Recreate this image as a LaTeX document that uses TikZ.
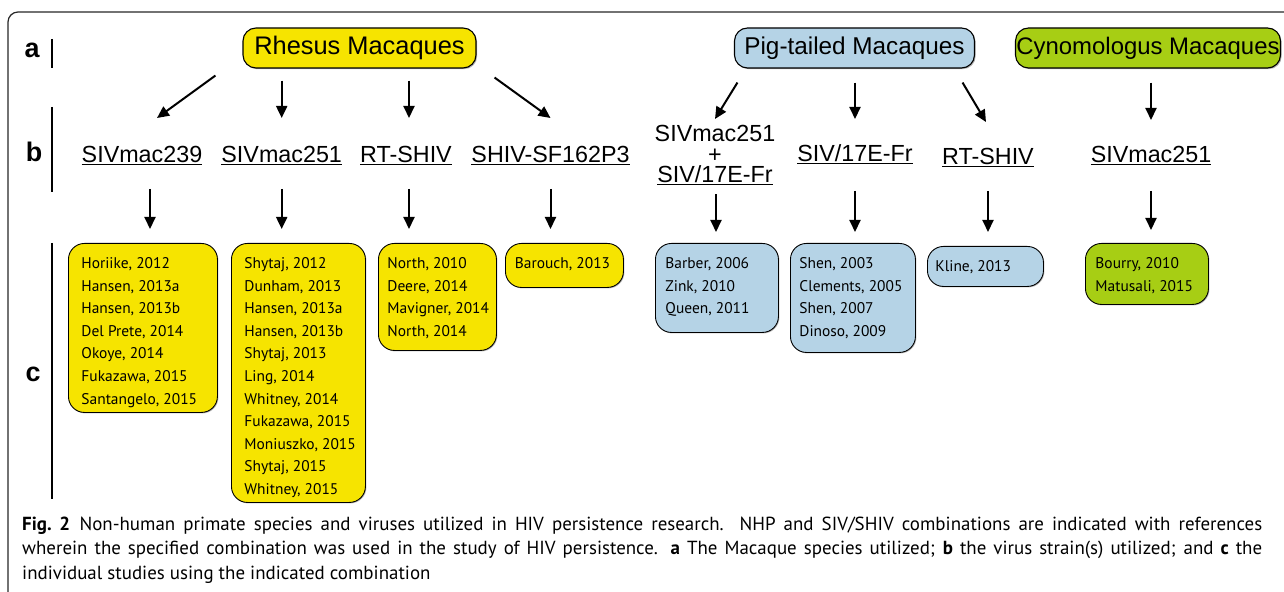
\documentclass[tikz,border=0pt]{standalone}
\usepackage{fontspec}
\setmainfont{Liberation Sans}
\newfontfamily\refsfont{PT Sans}
\usetikzlibrary{arrows.meta,calc,shadows}

\definecolor{rhesusyellow}{RGB}{246,228,0}
\definecolor{pigblue}{RGB}{181,211,230}
\definecolor{cynogreen}{RGB}{167,206,20}

% list of references inside a box of given width and height
\newcommand{\reflist}[3]{\parbox[t][#2][t]{#1}{\rule{0pt}{25bp}\begin{tabular}[t]{@{}l@{}}#3\end{tabular}}}
% one caption line, spread to the full width
\newcommand{\capline}[1]{\makebox[1240bp][s]{#1}}

\tikzset{
  species/.style={draw, fill=#1, line width=1.1bp, rounded corners=13bp, minimum height=40bp,
    inner sep=0pt, font=\fontsize{24}{28}\selectfont,
    drop shadow={shadow xshift=1.2bp, shadow yshift=-1.2bp, opacity=0.6}},
  strain/.style={inner sep=0pt, font=\fontsize{23.4}{20.5}\selectfont},
  refbox/.style={draw, fill=#1, line width=0.9bp, rounded corners=16bp, anchor=north west,
    inner ysep=0pt, font=\refsfont\fontsize{15.5}{22.7}\selectfont,
    drop shadow={shadow xshift=1bp, shadow yshift=-1bp, opacity=0.5}},
  arr/.style={line width=2bp, -{Triangle[length=12bp,width=11bp]}},
  rowlbl/.style={anchor=base, inner sep=0pt, font=\bfseries\fontsize{27}{30}\selectfont},
  rowbar/.style={line width=2bp},
}

\begin{document}
\begin{tikzpicture}[x=1bp, y=-1bp]
\useasboundingbox (0,0) rectangle (1284,592);
% frame
\draw[black!85, line width=1.2bp, rounded corners=10bp] (8,592) -- (8,12) -- (1284,12);

% row labels
\node[rowlbl] (la) at (32,58) {a};
\node[rowlbl] (lb) at (34,162) {b};
\node[rowlbl] (lc) at (33,382) {c};
\draw[rowbar] (52,39) -- (52,68);
\draw[rowbar] (52,107) -- (52,192);
\draw[rowbar] (52,243) -- (52,499);

% a: species
\node[species=rhesusyellow, minimum width=233bp, font=\fontsize{25.5}{28}\selectfont] (rhesus) at (359.5,48) {Rhesus Macaques};
\node[species=pigblue, minimum width=240bp, font=\fontsize{24.4}{28}\selectfont] (pigtail) at (854.5,48) {Pig-tailed Macaques};
\node[species=cynogreen, minimum width=265bp] (cyno) at (1148,48) {Cynomologus Macaques};

% b: strains
\node[strain, anchor=base] (s239) at (142,163) {\underline{SIVmac239}};
\node[strain, anchor=base] (s251) at (281.7,163) {\underline{SIVmac251}};
\node[strain, anchor=base] (rtshiv) at (406,163) {\underline{RT-SHIV}};
\node[strain, anchor=base] (shivsf) at (550.5,163) {\underline{SHIV-SF162P3}};
\node[strain, anchor=north, align=center] (combo) at (715,125.5) {SIVmac251\\+\\\underline{SIV/17E-Fr}};
\node[strain, anchor=base] (siv17) at (855,162) {\underline{SIV/17E-Fr}};
\node[strain, anchor=base] (rtshivpt) at (988,165) {\underline{RT-SHIV}};
\node[strain, anchor=base] (cyno251) at (1151,163) {\underline{SIVmac251}};

% c: studies
\node[refbox=rhesusyellow, inner xsep=13bp] (horiike) at (68,243) {\reflist{123bp}{169bp}{%
  Horiike, 2012\\Hansen, 2013a\\Hansen, 2013b\\Del Prete, 2014\\Okoye, 2014\\Fukazawa, 2015\\Santangelo, 2015}};
\node[refbox=rhesusyellow, inner xsep=13bp] (shytaj) at (231,243) {\reflist{108bp}{259bp}{%
  Shytaj, 2012\\Dunham, 2013\\Hansen, 2013a\\Hansen, 2013b\\Shytaj, 2013\\Ling, 2014\\Whitney, 2014\\%
  Fukazawa, 2015\\Moniuszko, 2015\\Shytaj, 2015\\Whitney, 2015}};
\node[refbox=rhesusyellow, inner xsep=9bp] (north) at (378,243) {\reflist{100bp}{107bp}{%
  North, 2010\\Deere, 2014\\Mavigner, 2014\\North, 2014}};
\node[refbox=rhesusyellow, inner xsep=9.5bp] (barouch) at (505,243) {\reflist{99bp}{44bp}{%
  Barouch, 2013}};
\node[refbox=pigblue, inner xsep=10bp] (barber) at (655,243) {\reflist{103bp}{89bp}{%
  Barber, 2006\\Zink, 2010\\Queen, 2011}};
\node[refbox=pigblue, inner xsep=9bp] (shen) at (790,243) {\reflist{107bp}{109bp}{%
  Shen, 2003\\Clements, 2005\\Shen, 2007\\Dinoso, 2009}};
\node[refbox=pigblue, inner xsep=8bp] (kline) at (927,246) {\reflist{100bp}{40bp}{%
  Kline, 2013}};
\node[refbox=cynogreen, inner xsep=10bp] (bourry) at (1085,243) {\reflist{103bp}{61bp}{%
  Bourry, 2010\\Matusali, 2015}};

% a -> b
\draw[arr] ($(rhesus.south west)+(-27,7)$) -- ($(s239.base)+(15,-45)$);
\draw[arr, shorten <=12bp, shorten >=45bp] (s251.base |- rhesus.south) -- (s251.base);
\draw[arr, shorten <=12bp, shorten >=45bp] ($(rtshiv.base |- rhesus.south)+(3,0)$) -- ($(rtshiv.base)+(3,0)$);
\draw[arr] ($(rhesus.south east)+(18,9)$) -- ($(shivsf.base)+(0,-45)$);
\draw[arr] ($(pigtail.south west)+(3.5,14)$) -- ($(combo.north)+(0,-6.5)$);
\draw[arr, shorten <=14bp, shorten >=43bp] (siv17.base |- pigtail.south) -- (siv17.base);
\draw[arr] ($(pigtail.south east)+(-12.5,14)$) -- ($(rtshivpt.base)+(-2,-43)$);
\draw[arr, shorten <=14bp, shorten >=43bp] (cyno251.base |- cyno.south) -- (cyno251.base);

% b -> c
\draw[arr] ($(s239.base)+(8,26)$) -- ($(s239.base |- horiike.north)+(8,-14)$);
\draw[arr] ($(s251.base)+(0,26)$) -- ($(s251.base |- shytaj.north)+(0,-14)$);
\draw[arr] ($(rtshiv.base)+(3,26)$) -- ($(rtshiv.base |- north.north)+(3,-14)$);
\draw[arr] ($(shivsf.base)+(0,26)$) -- ($(shivsf.base |- barouch.north)+(0,-14)$);
\draw[arr] ($(combo.south)+(1,9)$) -- ($(combo.south |- barber.north)+(1,-11)$);
\draw[arr] ($(siv17.base)+(0,29)$) -- ($(siv17.base |- shen.north)+(0,-11)$);
\draw[arr] ($(rtshivpt.base)+(0,26)$) -- ($(rtshivpt.base |- kline.north)+(0,-14)$);
\draw[arr] ($(cyno251.base)+(0,28)$) -- ($(cyno251.base |- bourry.north)+(0,-13)$);

% caption (base = last line)
\node[anchor=base west, inner sep=0pt, align=left, font=\refsfont\fontsize{19}{24.5}\selectfont] (caption) at (22,579)
  {\capline{\textbf{Fig.~2}\hspace{0.5em}Non-human primate species and viruses utilized in HIV persistence research. NHP and SIV/SHIV combinations are indicated with references}\\
  \capline{wherein the specified combination was used in the study of HIV persistence. \textbf{a} The Macaque species utilized; \textbf{b} the virus strain(s) utilized; and \textbf{c} the}\\
  individual studies using the indicated combination};
\end{tikzpicture}
\end{document}
